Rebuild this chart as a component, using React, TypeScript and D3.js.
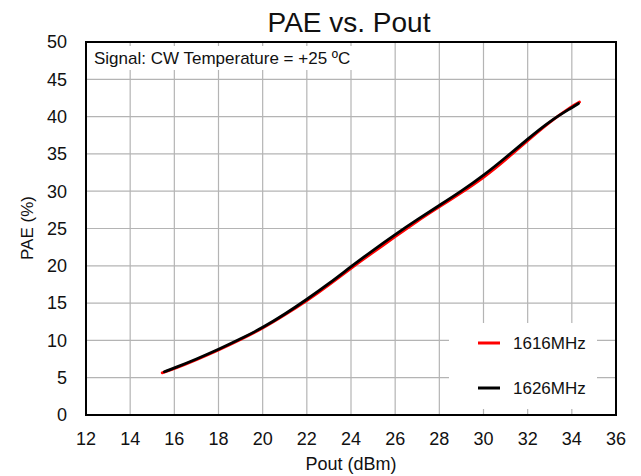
import React from "react";
import * as d3 from "d3";

const xTicks = [12, 14, 16, 18, 20, 22, 24, 26, 28, 30, 32, 34, 36];
const yTicks = [0, 5, 10, 15, 20, 25, 30, 35, 40, 45, 50];

const pout1616 = [15.45, 16, 17, 18, 19, 20, 21, 22, 23, 24, 25, 26, 27, 28, 29, 30, 31, 32, 33, 34, 34.35];
const pae1616 = [5.65, 6.2, 7.4, 8.7, 10.1, 11.6, 13.4, 15.3, 17.4, 19.7, 21.8, 23.9, 26.0, 27.9, 29.8, 31.8, 34.2, 36.8, 39.3, 41.4, 41.95];

const pout1626 = [15.55, 16, 17, 18, 19, 20, 21, 22, 23, 24, 25, 26, 27, 28, 29, 30, 31, 32, 33, 34, 34.3];
const pae1626 = [5.8, 6.3, 7.5, 8.8, 10.2, 11.7, 13.5, 15.5, 17.6, 19.9, 22.1, 24.2, 26.2, 28.1, 30.0, 32.1, 34.5, 37.0, 39.4, 41.2, 41.75];

const seriesNames = ["1616MHz", "1626MHz"];
const seriesColors = ["#ff0000", "#000000"];

const W = 641;
const H = 476;
const L = 86, R = 616, T = 42, B = 415;
const FONT = "'Liberation Sans', Arial, sans-serif";

export default function App() {
  const x = d3.scaleLinear().domain([12, 36]).range([L, R]);
  const y = d3.scaleLinear().domain([0, 50]).range([B, T]);
  const line = d3
    .line<[number, number]>()
    .x((d) => x(d[0]))
    .y((d) => y(d[1]))
    .curve(d3.curveBasis);

  const s1 = pout1616.map((v, i) => [v, pae1616[i]] as [number, number]);
  const s2 = pout1626.map((v, i) => [v, pae1626[i]] as [number, number]);

  return (
    <svg
      width={W}
      height={H}
      style={{ position: "absolute", left: 0, top: 0, background: "#fff" }}
      fontFamily={FONT}
    >
      <rect x={0} y={0} width={W} height={H} fill="#fff" />
      {xTicks.slice(1, -1).map((t) => (
        <line key={"gx" + t} x1={x(t)} x2={x(t)} y1={T} y2={B} stroke="#b4b4b4" strokeWidth={1.2} />
      ))}
      {yTicks.slice(1, -1).map((t) => (
        <line key={"gy" + t} x1={L} x2={R} y1={y(t)} y2={y(t)} stroke="#b4b4b4" strokeWidth={1.2} />
      ))}
      <rect x={L + 1} y={46} width={278} height={24} fill="#fff" />
      <text x={94} y={64} fontSize={17} fill="#111">
        Signal: CW Temperature = +25 ºC
      </text>
      <rect x={449} y={323} width={148} height={86} fill="#fff" />
      {seriesNames.map((n, i) => (
        <g key={n}>
          <line x1={478} x2={500} y1={343 + i * 45} y2={343 + i * 45} stroke={seriesColors[i]} strokeWidth={3} />
          <text x={513} y={343 + i * 45} dy="0.35em" fontSize={17} fill="#111">
            {n}
          </text>
        </g>
      ))}
      <path d={line(s1) || ""} fill="none" stroke={seriesColors[0]} strokeWidth={2.8} strokeLinecap="round" />
      <path d={line(s2) || ""} fill="none" stroke={seriesColors[1]} strokeWidth={2.8} strokeLinecap="round" />
      <rect x={L} y={T} width={R - L} height={B - T} fill="none" stroke="#000" strokeWidth={2} />
      {yTicks.map((t) => (
        <text key={"ty" + t} x={67} y={y(t)} dy="0.35em" textAnchor="end" fontSize={18} fill="#111">
          {t}
        </text>
      ))}
      {xTicks.map((t) => (
        <text key={"tx" + t} x={x(t)} y={445} textAnchor="middle" fontSize={18} fill="#111">
          {t}
        </text>
      ))}
      <text x={351} y={470} textAnchor="middle" fontSize={18} fill="#111">
        Pout (dBm)
      </text>
      <text transform={`translate(33,228) rotate(-90)`} textAnchor="middle" fontSize={17} fill="#111">
        PAE (%)
      </text>
      <text x={349} y={32} textAnchor="middle" fontSize={28} fill="#111">
        PAE vs. Pout
      </text>
    </svg>
  );
}
